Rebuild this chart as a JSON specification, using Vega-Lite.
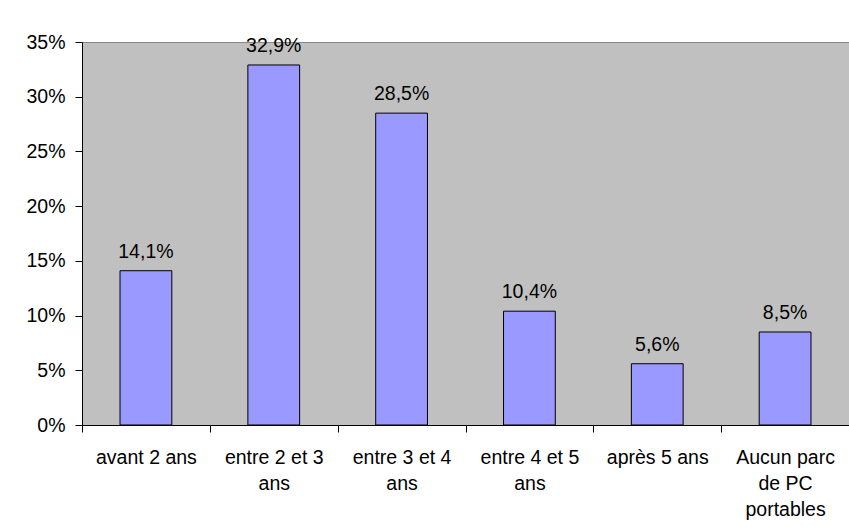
{
  "$schema": "https://vega.github.io/schema/vega-lite/v6.json",
  "autosize": "none",
  "width": 767,
  "height": 383,
  "padding": {"left": 82, "top": 42, "right": 0, "bottom": 102},
  "background": "white",
  "data": {
    "values": [
      {"categorie": "avant 2 ans", "part": 0.141},
      {"categorie": "entre 2 et 3 ans", "part": 0.329},
      {"categorie": "entre 3 et 4 ans", "part": 0.285},
      {"categorie": "entre 4 et 5 ans", "part": 0.104},
      {"categorie": "après 5 ans", "part": 0.056},
      {"categorie": "Aucun parc de PC portables", "part": 0.085}
    ]
  },
  "encoding": {
    "x": {
      "field": "categorie",
      "type": "nominal",
      "sort": null,
      "title": null,
      "scale": {"paddingInner": 0, "paddingOuter": 0},
      "axis": {
        "labelAngle": 0,
        "tickBand": "extent",
        "tickSize": 7,
        "tickColor": "black",
        "domainColor": "black",
        "labelPadding": 16,
        "labelFont": "Liberation Sans",
        "labelFontSize": 19.5,
        "labelColor": "black",
        "labelLineHeight": 26,
        "labelBaseline": "top",
        "labelExpr": "datum.label == 'entre 2 et 3 ans' ? ['entre 2 et 3', 'ans'] : datum.label == 'entre 3 et 4 ans' ? ['entre 3 et 4', 'ans'] : datum.label == 'entre 4 et 5 ans' ? ['entre 4 et 5', 'ans'] : datum.label == 'Aucun parc de PC portables' ? ['Aucun parc', 'de PC', 'portables'] : datum.label",
        "labelLimit": 200
      }
    },
    "y": {
      "field": "part",
      "type": "quantitative",
      "title": null,
      "scale": {"domain": [0, 0.35], "nice": false},
      "axis": {
        "format": ".0%",
        "values": [0, 0.05, 0.1, 0.15, 0.2, 0.25, 0.3, 0.35],
        "grid": false,
        "tickSize": 7,
        "tickColor": "black",
        "domainColor": "black",
        "labelPadding": 10,
        "labelFont": "Liberation Sans",
        "labelFontSize": 19.5,
        "labelColor": "black"
      }
    }
  },
  "layer": [
    {
      "mark": {"type": "bar", "color": "#9999FF", "stroke": "black", "strokeWidth": 1, "width": {"band": 0.405}}
    },
    {
      "mark": {"type": "text", "baseline": "alphabetic", "dy": -13, "font": "Liberation Sans", "fontSize": 19.5, "color": "black"},
      "encoding": {"text": {"field": "part", "type": "quantitative", "format": ".1%"}}
    }
  ],
  "config": {
    "locale": {"number": {"decimal": ",", "thousands": " ", "grouping": [3], "currency": ["", " €"]}},
    "view": {"fill": "#C0C0C0", "stroke": "#888888", "strokeWidth": 1},
    "axis": {"domainWidth": 1, "tickWidth": 1}
  }
}
